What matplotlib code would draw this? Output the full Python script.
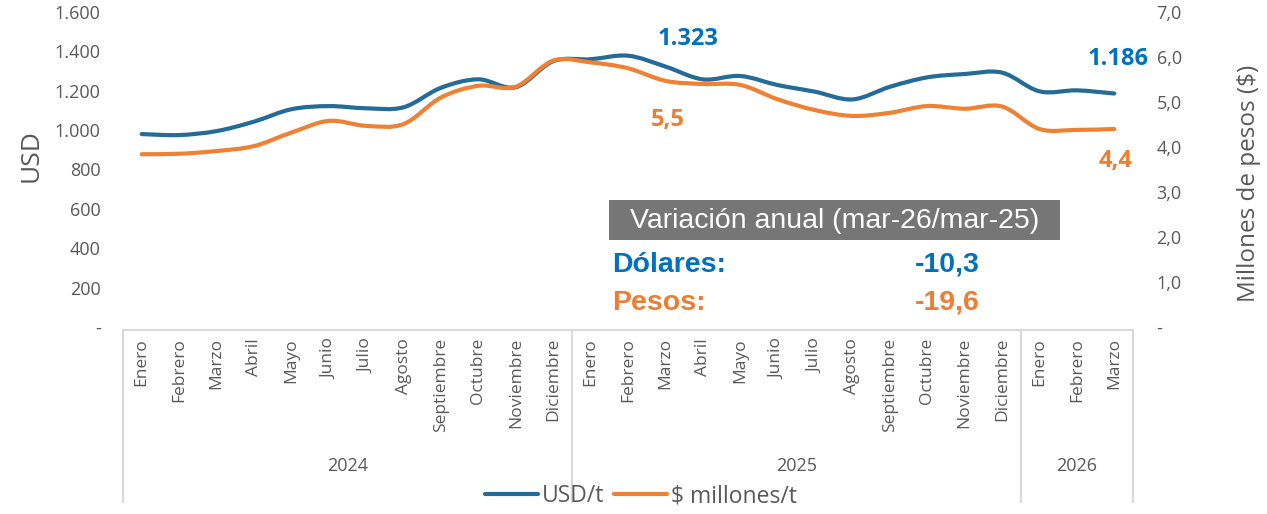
import matplotlib
matplotlib.use('Agg')
import matplotlib.pyplot as plt
from matplotlib.path import Path
from matplotlib.patches import PathPatch, Rectangle
from matplotlib.lines import Line2D

# ---------------- data ----------------
months = ["Enero", "Febrero", "Marzo", "Abril", "Mayo", "Junio", "Julio",
          "Agosto", "Septiembre", "Octubre", "Noviembre", "Diciembre"]
month_labels = months + months + months[:3]
years = ["2024", "2025", "2026"]
year_counts = [12, 12, 3]

usd_t = [980, 975, 995, 1043, 1106, 1122, 1111, 1116, 1215, 1258, 1218, 1350,
         1360, 1378, 1323, 1258, 1275, 1229, 1195, 1156, 1220, 1268, 1285, 1292,
         1197, 1202, 1186]
pesos_t = [3.84, 3.85, 3.91, 4.02, 4.32, 4.58, 4.47, 4.51, 5.10, 5.36, 5.34, 5.92,
           5.88, 5.75, 5.47, 5.40, 5.38, 5.06, 4.82, 4.69, 4.76, 4.91, 4.85, 4.90,
           4.40, 4.38, 4.40]

usd_ticks = [0, 200, 400, 600, 800, 1000, 1200, 1400, 1600]
usd_tick_labels = ["-", "200", "400", "600", "800", "1.000", "1.200", "1.400", "1.600"]
peso_ticks = [0, 1, 2, 3, 4, 5, 6, 7]
peso_tick_labels = ["-", "1,0", "2,0", "3,0", "4,0", "5,0", "6,0", "7,0"]

label_usd_start, label_usd_end = "1.323", "1.186"
label_peso_start, label_peso_end = "5,5", "4,4"
var_title = "Variación anual (mar-26/mar-25)"
var_usd = "-10,3"
var_peso = "-19,6"

# ---------------- style ----------------
W, H = 1267, 514
BLUE = "#246B97"
ORANGE = "#EE8133"
LBLUE = "#0070C0"
LORANGE = "#ED7D31"
GRAY = "#595959"
AXGRAY = "#D9D9D9"
FONT = "Open Sans"
plt.rcParams['font.family'] = [FONT, 'DejaVu Sans']

fig = plt.figure(figsize=(W / 100, H / 100), dpi=100)
ax = fig.add_axes([123 / W, 1 - 327 / H, (1133 - 123) / W, (327 - 12) / H])
ax2 = ax.twinx()

n = len(usd_t)
xs = list(range(n))
ax.set_xlim(-0.5, n - 0.5)
ax.set_ylim(0, 1600)
ax2.set_ylim(0, 7)


def smooth_path(x, y):
    """Excel-like smoothed line (Catmull-Rom as cubic Bezier)."""
    verts = [(x[0], y[0])]
    codes = [Path.MOVETO]
    m = len(x)
    for i in range(m - 1):
        x0, y0 = (x[i - 1], y[i - 1]) if i > 0 else (x[i], y[i])
        x1, y1 = x[i], y[i]
        x2, y2 = x[i + 1], y[i + 1]
        x3, y3 = (x[i + 2], y[i + 2]) if i + 2 < m else (x2, y2)
        c1 = (x1 + (x2 - x0) / 6, y1 + (y2 - y0) / 6)
        c2 = (x2 - (x3 - x1) / 6, y2 - (y3 - y1) / 6)
        verts += [c1, c2, (x2, y2)]
        codes += [Path.CURVE4] * 3
    return Path(verts, codes)


ax.add_patch(PathPatch(smooth_path(xs, usd_t), fill=False, edgecolor=BLUE,
                       lw=3.0, capstyle='round', joinstyle='round', zorder=3))
ax2.add_patch(PathPatch(smooth_path(xs, pesos_t), fill=False, edgecolor=ORANGE,
                        lw=3.0, capstyle='round', joinstyle='round', zorder=3))

for a in (ax, ax2):
    for s in ("top", "left", "right", "bottom"):
        a.spines[s].set_visible(False)

# axis ticks
ax.set_yticks(usd_ticks)
ax.set_yticklabels(usd_tick_labels)
ax2.set_yticks(peso_ticks)
ax2.set_yticklabels(peso_tick_labels)
ax.tick_params(axis='y', length=0, pad=16, labelsize=13, labelcolor=GRAY)
ax2.tick_params(axis='y', length=0, pad=17, labelsize=13, labelcolor=GRAY)

ax.set_xticks(xs)
ax.set_xticklabels(month_labels, rotation=90, va='top', ha='center')
ax.tick_params(axis='x', length=0, pad=8, labelsize=12.5, labelcolor=GRAY)

# axis titles
fig.text(31 / W, 1 - 156 / H, "USD", rotation=90, ha='center', va='center',
         fontsize=19, color=GRAY)
fig.text(1249 / W, 1 - 183 / H, "Millones de pesos ($)", rotation=90,
         ha='center', va='center', fontsize=17.5, color=GRAY)

# category axis box
xt = ax.get_xaxis_transform()
ybot = -(502 - 327) / 315
ytop = -(330 - 327) / 315
ax.plot([-0.5, n - 0.5], [ytop, ytop], transform=xt, color=AXGRAY, lw=1.5,
        clip_on=False, zorder=1)
bounds = [-0.5]
for c in year_counts:
    bounds.append(bounds[-1] + c)
for b in bounds:
    ax.plot([b, b], [ytop, ybot], transform=xt, color=AXGRAY, lw=1.5,
            clip_on=False, zorder=1)
for yr, b0, b1 in zip(years, bounds[:-1], bounds[1:]):
    ax.text((b0 + b1) / 2, -(466 - 327) / 315, yr, transform=xt, ha='center',
            va='center', fontsize=13, color=GRAY)

# data labels
ax.annotate(label_usd_start, (14, usd_t[14]), xytext=(16, 20),
            textcoords='offset points', ha='center', va='center',
            fontsize=17, fontweight='bold', color=LBLUE)
ax.annotate(label_usd_end, (n - 1, usd_t[-1]), xytext=(3, 25),
            textcoords='offset points', ha='center', va='center',
            fontsize=17, fontweight='bold', color=LBLUE)
ax2.annotate(label_peso_start, (14, pesos_t[14]), xytext=(2, -28),
             textcoords='offset points', ha='center', va='center',
             fontsize=17, fontweight='bold', color=LORANGE)
ax2.annotate(label_peso_end, (n - 1, pesos_t[-1]), xytext=(1, -23),
             textcoords='offset points', ha='center', va='center',
             fontsize=17, fontweight='bold', color=LORANGE)


# variation box
def fx(px):
    return px / W


def fy(py):
    return 1 - py / H


fig.patches.append(Rectangle((fx(609), fy(240)), fx(1060) - fx(609), fy(200) - fy(240),
                             transform=fig.transFigure, facecolor="#767676",
                             edgecolor='none', zorder=5))
fig.text(fx(835), fy(221), var_title, ha='center', va='center', fontsize=20.5,
         color='white', family='Liberation Sans', zorder=6)
fig.text(fx(612), fy(265), "Dólares:", ha='left', va='center', fontsize=20.5,
         fontweight='bold', color=LBLUE, family='Liberation Sans')
fig.text(fx(980), fy(265), var_usd, ha='right', va='center', fontsize=20.5,
         fontweight='bold', color=LBLUE, family='Liberation Sans')
fig.text(fx(612), fy(303), "Pesos:", ha='left', va='center', fontsize=20.5,
         fontweight='bold', color=LORANGE, family='Liberation Sans')
fig.text(fx(980), fy(303), var_peso, ha='right', va='center', fontsize=20.5,
         fontweight='bold', color=LORANGE, family='Liberation Sans')

# legend
handles = [Line2D([], [], color=BLUE, lw=3, solid_capstyle='round'),
           Line2D([], [], color=ORANGE, lw=3, solid_capstyle='round')]
fig.legend(handles, ["USD/t", "$ millones/t"], loc='center',
           bbox_to_anchor=(fx(641), fy(496)), ncol=2, frameon=False,
           fontsize=16.5, labelcolor=GRAY, handlelength=2.3, handletextpad=0.2,
           columnspacing=0.4, borderpad=0)

fig.savefig("out.png", dpi=100)
